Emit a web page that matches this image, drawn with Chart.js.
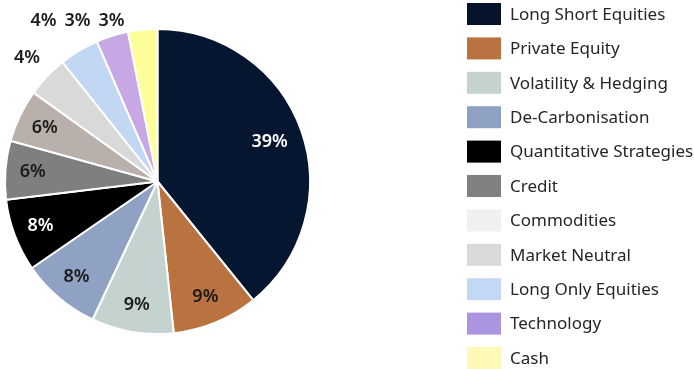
<!DOCTYPE html>
<html>
<head>
  <title>Strategy Allocation</title>
  <script src="https://cdn.jsdelivr.net/npm/chart.js"></script>
  <style>body { margin: 0; background: #fff; }</style>
</head>
<body>
  <canvas id="allocChart" width="694" height="369"></canvas>
  <script>
    const strategies = ['Long Short Equities', 'Private Equity', 'Volatility & Hedging', 'De-Carbonisation',
      'Quantitative Strategies', 'Credit', 'Commodities', 'Market Neutral', 'Long Only Equities', 'Technology', 'Cash'];
    const weights = [39.2, 9.1, 8.7, 8.4, 7.7, 6.2, 5.6, 4.4, 4.2, 3.4, 3.1];
    const sliceColors = ['#061530', '#b97240', '#c4d3cf', '#8fa2c4', '#000000', '#7d807e',
      '#b9b0ab', '#d9d9d9', '#c2d7f4', '#c8a8e4', '#ffff99'];
    const legendColors = ['#06142b', '#b97240', '#c5d3cf', '#8fa2c4', '#000000', '#7f817f',
      '#f1f0ee', '#d9d9d9', '#c3d8f4', '#ab95e1', '#fff8b6'];

    function isDark(hex) {
      const n = parseInt(hex.slice(1), 16);
      const r = n >> 16, g = (n >> 8) & 255, b = n & 255;
      return (0.299 * r + 0.587 * g + 0.114 * b) < 80;
    }

    // percentage labels: inside for big slices, outside (top row) for small ones
    const sliceLabels = {
      id: 'sliceLabels',
      afterDatasetsDraw(chart) {
        const ctx = chart.ctx;
        const arcs = chart.getDatasetMeta(0).data;
        ctx.save();
        ctx.font = '600 18px "Noto Sans"';
        ctx.textAlign = 'center';
        ctx.textBaseline = 'middle';
        const outside = [];
        arcs.forEach((arc, i) => {
          const txt = Math.round(weights[i]) + '%';
          const mid = (arc.startAngle + arc.endAngle) / 2;
          if (weights[i] < 5) { outside.push(i); return; }
          const k = i === 0 ? 0.78 : 0.82;
          ctx.fillStyle = isDark(sliceColors[i]) ? '#ffffff' : '#1a1a1a';
          ctx.fillText(txt, arc.x + Math.cos(mid) * arc.outerRadius * k, arc.y + Math.sin(mid) * arc.outerRadius * k);
        });
        ctx.fillStyle = '#1a1a1a';
        // first small slice sits radially, the rest line up above the pie
        let rowX = null;
        for (let j = outside.length - 1; j >= 0; j--) {
          const i = outside[j];
          const arc = arcs[i];
          const txt = Math.round(weights[i]) + '%';
          const w = ctx.measureText(txt).width;
          if (j === 0) {
            const mid = (arc.startAngle + arc.endAngle) / 2;
            ctx.fillText(txt, arc.x + Math.cos(mid) * arc.outerRadius * 1.18, arc.y + Math.sin(mid) * arc.outerRadius * 1.18);
          } else {
            rowX = rowX === null ? arc.x - 46 : rowX - w - 8;
            ctx.fillText(txt, rowX, chart.chartArea.top - 7);
          }
        }
        ctx.restore();
      }
    };

    const sideLegend = {
      id: 'sideLegend',
      afterDraw(chart) {
        const ctx = chart.ctx;
        ctx.save();
        ctx.font = '17px "Noto Sans"';
        ctx.textBaseline = 'middle';
        strategies.forEach((name, i) => {
          const y = 3 + i * 34.4;
          ctx.fillStyle = legendColors[i];
          ctx.fillRect(467, y, 34, 22);
          ctx.fillStyle = '#262626';
          ctx.fillText(name, 510, y + 12);
        });
        ctx.restore();
      }
    };

    new Chart(document.getElementById('allocChart'), {
      type: 'pie',
      data: {
        labels: strategies,
        datasets: [{ data: weights, backgroundColor: sliceColors, borderColor: '#ffffff', borderWidth: 2 }]
      },
      options: {
        responsive: false,
        animation: false,
        devicePixelRatio: 1,
        layout: { padding: { left: 4, top: 28, right: 383, bottom: 34 } },
        plugins: { legend: { display: false }, tooltip: { enabled: false } }
      },
      plugins: [sliceLabels, sideLegend]
    });
  </script>
</body>
</html>
